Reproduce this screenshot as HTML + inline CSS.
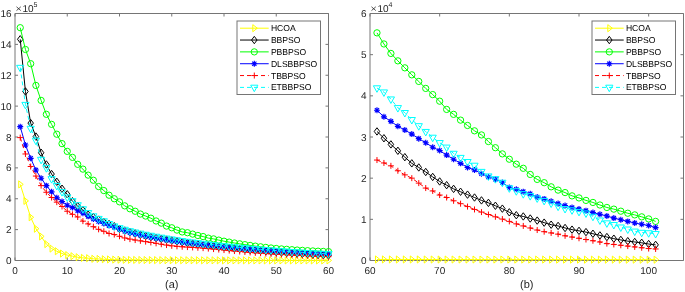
<!DOCTYPE html>
<html><head><meta charset="utf-8"><style>
html,body{margin:0;padding:0;background:#fff;}
body{width:685px;height:292px;overflow:hidden;font-family:"Liberation Sans",sans-serif;}
svg{display:block;}
#wrap{will-change:transform;}
</style></head><body>
<div id="wrap"><svg width="685" height="292" viewBox="0 0 685 292">
<rect width="685" height="292" fill="#fff"/>
<g stroke="#262626" stroke-width="1" fill="none" opacity="0.63">
<path d="M15.0,13.5H328.5V260.5H15.0Z"/>
<path d="M15.00,260.5v-3M15.00,13.5v3"/>
<path d="M67.25,260.5v-3M67.25,13.5v3"/>
<path d="M119.50,260.5v-3M119.50,13.5v3"/>
<path d="M171.75,260.5v-3M171.75,13.5v3"/>
<path d="M224.00,260.5v-3M224.00,13.5v3"/>
<path d="M276.25,260.5v-3M276.25,13.5v3"/>
<path d="M328.50,260.5v-3M328.50,13.5v3"/>
<path d="M15.0,260.50h3M328.5,260.50h-3"/>
<path d="M15.0,229.62h3M328.5,229.62h-3"/>
<path d="M15.0,198.75h3M328.5,198.75h-3"/>
<path d="M15.0,167.88h3M328.5,167.88h-3"/>
<path d="M15.0,137.00h3M328.5,137.00h-3"/>
<path d="M15.0,106.12h3M328.5,106.12h-3"/>
<path d="M15.0,75.25h3M328.5,75.25h-3"/>
<path d="M15.0,44.38h3M328.5,44.38h-3"/>
<path d="M15.0,13.50h3M328.5,13.50h-3"/>
</g>
<polyline points="20.23,184.39 25.45,200.91 30.68,217.28 35.90,228.70 41.12,236.42 46.35,244.14 51.58,248.61 56.80,251.24 62.02,253.55 67.25,255.10 72.47,256.18 77.70,257.26 82.92,257.88 88.15,258.18 93.38,258.80 98.60,258.96 103.83,259.26 109.05,259.47 114.27,259.62 119.50,259.73 124.72,259.81 129.95,259.88 135.18,259.94 140.40,259.99 145.62,260.04 150.85,260.08 156.08,260.11 161.30,260.14 166.53,260.17 171.75,260.19 176.98,260.21 182.20,260.24 187.43,260.25 192.65,260.27 197.88,260.29 203.10,260.30 208.33,260.32 213.55,260.33 218.78,260.34 224.00,260.35 229.22,260.35 234.45,260.36 239.68,260.37 244.90,260.37 250.12,260.38 255.35,260.38 260.57,260.39 265.80,260.39 271.02,260.40 276.25,260.40 281.47,260.40 286.70,260.41 291.93,260.41 297.15,260.41 302.38,260.42 307.60,260.42 312.82,260.42 318.05,260.42 323.27,260.42 328.50,260.42" fill="none" stroke="#ffff00" stroke-width="1"/>
<g fill="none" stroke="#ffff00" stroke-width="1"><path d="M18.73,180.84L23.23,184.39L18.73,187.94Z"/><path d="M23.95,197.36L28.45,200.91L23.95,204.46Z"/><path d="M29.18,213.72L33.67,217.28L29.18,220.83Z"/><path d="M34.40,225.15L38.90,228.70L34.40,232.25Z"/><path d="M39.62,232.87L44.12,236.42L39.62,239.97Z"/><path d="M44.85,240.59L49.35,244.14L44.85,247.69Z"/><path d="M50.08,245.06L54.58,248.61L50.08,252.16Z"/><path d="M55.30,247.69L59.80,251.24L55.30,254.79Z"/><path d="M60.52,250.00L65.03,253.55L60.52,257.10Z"/><path d="M65.75,251.55L70.25,255.10L65.75,258.65Z"/><path d="M70.97,252.63L75.47,256.18L70.97,259.73Z"/><path d="M76.20,253.71L80.70,257.26L76.20,260.81Z"/><path d="M81.42,254.33L85.92,257.88L81.42,261.43Z"/><path d="M86.65,254.63L91.15,258.18L86.65,261.73Z"/><path d="M91.88,255.25L96.38,258.80L91.88,262.35Z"/><path d="M97.10,255.41L101.60,258.96L97.10,262.51Z"/><path d="M102.33,255.71L106.83,259.26L102.33,262.81Z"/><path d="M107.55,255.92L112.05,259.47L107.55,263.02Z"/><path d="M112.77,256.07L117.27,259.62L112.77,263.17Z"/><path d="M118.00,256.18L122.50,259.73L118.00,263.28Z"/><path d="M123.22,256.26L127.72,259.81L123.22,263.36Z"/><path d="M128.45,256.33L132.95,259.88L128.45,263.43Z"/><path d="M133.68,256.39L138.18,259.94L133.68,263.49Z"/><path d="M138.90,256.44L143.40,259.99L138.90,263.54Z"/><path d="M144.12,256.49L148.62,260.04L144.12,263.59Z"/><path d="M149.35,256.53L153.85,260.08L149.35,263.63Z"/><path d="M154.58,256.56L159.08,260.11L154.58,263.66Z"/><path d="M159.80,256.59L164.30,260.14L159.80,263.69Z"/><path d="M165.03,256.62L169.53,260.17L165.03,263.72Z"/><path d="M170.25,256.64L174.75,260.19L170.25,263.74Z"/><path d="M175.48,256.66L179.98,260.21L175.48,263.76Z"/><path d="M180.70,256.69L185.20,260.24L180.70,263.79Z"/><path d="M185.93,256.70L190.43,260.25L185.93,263.80Z"/><path d="M191.15,256.72L195.65,260.27L191.15,263.82Z"/><path d="M196.38,256.74L200.88,260.29L196.38,263.84Z"/><path d="M201.60,256.75L206.10,260.30L201.60,263.85Z"/><path d="M206.83,256.77L211.33,260.32L206.83,263.87Z"/><path d="M212.05,256.78L216.55,260.33L212.05,263.88Z"/><path d="M217.28,256.79L221.78,260.34L217.28,263.89Z"/><path d="M222.50,256.80L227.00,260.35L222.50,263.90Z"/><path d="M227.72,256.80L232.22,260.35L227.72,263.90Z"/><path d="M232.95,256.81L237.45,260.36L232.95,263.91Z"/><path d="M238.18,256.82L242.68,260.37L238.18,263.92Z"/><path d="M243.40,256.82L247.90,260.37L243.40,263.92Z"/><path d="M248.62,256.83L253.12,260.38L248.62,263.93Z"/><path d="M253.85,256.83L258.35,260.38L253.85,263.93Z"/><path d="M259.07,256.84L263.57,260.39L259.07,263.94Z"/><path d="M264.30,256.84L268.80,260.39L264.30,263.94Z"/><path d="M269.52,256.85L274.02,260.40L269.52,263.95Z"/><path d="M274.75,256.85L279.25,260.40L274.75,263.95Z"/><path d="M279.97,256.85L284.47,260.40L279.97,263.95Z"/><path d="M285.20,256.86L289.70,260.41L285.20,263.96Z"/><path d="M290.43,256.86L294.93,260.41L290.43,263.96Z"/><path d="M295.65,256.86L300.15,260.41L295.65,263.96Z"/><path d="M300.88,256.87L305.38,260.42L300.88,263.97Z"/><path d="M306.10,256.87L310.60,260.42L306.10,263.97Z"/><path d="M311.32,256.87L315.82,260.42L311.32,263.97Z"/><path d="M316.55,256.87L321.05,260.42L316.55,263.97Z"/><path d="M321.77,256.87L326.27,260.42L321.77,263.97Z"/><path d="M327.00,256.87L331.50,260.42L327.00,263.97Z"/></g>

<polyline points="20.23,39.28 25.45,91.46 30.68,123.11 35.90,136.54 41.12,152.75 46.35,164.48 51.58,174.05 56.80,181.77 62.02,188.72 67.25,194.27 72.47,201.22 77.70,206.16 82.92,210.17 88.15,214.65 93.38,216.97 98.60,219.59 103.83,221.91 109.05,224.07 114.27,226.23 119.50,228.85 124.72,230.54 129.95,231.94 135.18,233.33 140.40,234.62 145.62,235.80 150.85,236.85 156.08,237.82 161.30,238.72 166.53,239.58 171.75,240.43 176.98,241.26 182.20,242.07 187.43,242.84 192.65,243.58 197.88,244.29 203.10,244.96 208.33,245.60 213.55,246.22 218.78,246.81 224.00,247.38 229.22,247.93 234.45,248.45 239.68,248.96 244.90,249.44 250.12,249.91 255.35,250.37 260.57,250.81 265.80,251.24 271.02,251.65 276.25,252.05 281.47,252.44 286.70,252.81 291.93,253.17 297.15,253.52 302.38,253.85 307.60,254.17 312.82,254.48 318.05,254.77 323.27,255.06 328.50,255.33" fill="none" stroke="#000000" stroke-width="1"/>
<g fill="none" stroke="#000000" stroke-width="1"><path d="M20.23,35.58L22.98,39.28L20.23,42.98L17.48,39.28Z"/><path d="M25.45,87.76L28.20,91.46L25.45,95.16L22.70,91.46Z"/><path d="M30.68,119.41L33.42,123.11L30.68,126.81L27.93,123.11Z"/><path d="M35.90,132.84L38.65,136.54L35.90,140.24L33.15,136.54Z"/><path d="M41.12,149.05L43.88,152.75L41.12,156.45L38.38,152.75Z"/><path d="M46.35,160.78L49.10,164.48L46.35,168.18L43.60,164.48Z"/><path d="M51.58,170.35L54.33,174.05L51.58,177.75L48.83,174.05Z"/><path d="M56.80,178.07L59.55,181.77L56.80,185.47L54.05,181.77Z"/><path d="M62.02,185.02L64.78,188.72L62.02,192.42L59.27,188.72Z"/><path d="M67.25,190.57L70.00,194.27L67.25,197.97L64.50,194.27Z"/><path d="M72.47,197.52L75.22,201.22L72.47,204.92L69.72,201.22Z"/><path d="M77.70,202.46L80.45,206.16L77.70,209.86L74.95,206.16Z"/><path d="M82.92,206.47L85.67,210.17L82.92,213.87L80.17,210.17Z"/><path d="M88.15,210.95L90.90,214.65L88.15,218.35L85.40,214.65Z"/><path d="M93.38,213.27L96.12,216.97L93.38,220.67L90.62,216.97Z"/><path d="M98.60,215.89L101.35,219.59L98.60,223.29L95.85,219.59Z"/><path d="M103.83,218.21L106.58,221.91L103.83,225.61L101.08,221.91Z"/><path d="M109.05,220.37L111.80,224.07L109.05,227.77L106.30,224.07Z"/><path d="M114.27,222.53L117.02,226.23L114.27,229.93L111.52,226.23Z"/><path d="M119.50,225.15L122.25,228.85L119.50,232.55L116.75,228.85Z"/><path d="M124.72,226.84L127.47,230.54L124.72,234.24L121.97,230.54Z"/><path d="M129.95,228.24L132.70,231.94L129.95,235.64L127.20,231.94Z"/><path d="M135.18,229.63L137.93,233.33L135.18,237.03L132.43,233.33Z"/><path d="M140.40,230.92L143.15,234.62L140.40,238.32L137.65,234.62Z"/><path d="M145.62,232.10L148.38,235.80L145.62,239.50L142.88,235.80Z"/><path d="M150.85,233.15L153.60,236.85L150.85,240.55L148.10,236.85Z"/><path d="M156.08,234.12L158.83,237.82L156.08,241.52L153.33,237.82Z"/><path d="M161.30,235.02L164.05,238.72L161.30,242.42L158.55,238.72Z"/><path d="M166.53,235.88L169.28,239.58L166.53,243.28L163.78,239.58Z"/><path d="M171.75,236.73L174.50,240.43L171.75,244.13L169.00,240.43Z"/><path d="M176.98,237.56L179.73,241.26L176.98,244.96L174.23,241.26Z"/><path d="M182.20,238.37L184.95,242.07L182.20,245.77L179.45,242.07Z"/><path d="M187.43,239.14L190.18,242.84L187.43,246.54L184.68,242.84Z"/><path d="M192.65,239.88L195.40,243.58L192.65,247.28L189.90,243.58Z"/><path d="M197.88,240.59L200.62,244.29L197.88,247.99L195.12,244.29Z"/><path d="M203.10,241.26L205.85,244.96L203.10,248.66L200.35,244.96Z"/><path d="M208.33,241.90L211.08,245.60L208.33,249.30L205.58,245.60Z"/><path d="M213.55,242.52L216.30,246.22L213.55,249.92L210.80,246.22Z"/><path d="M218.78,243.11L221.53,246.81L218.78,250.51L216.03,246.81Z"/><path d="M224.00,243.68L226.75,247.38L224.00,251.08L221.25,247.38Z"/><path d="M229.22,244.23L231.97,247.93L229.22,251.63L226.47,247.93Z"/><path d="M234.45,244.75L237.20,248.45L234.45,252.15L231.70,248.45Z"/><path d="M239.68,245.26L242.43,248.96L239.68,252.66L236.93,248.96Z"/><path d="M244.90,245.74L247.65,249.44L244.90,253.14L242.15,249.44Z"/><path d="M250.12,246.21L252.88,249.91L250.12,253.61L247.38,249.91Z"/><path d="M255.35,246.67L258.10,250.37L255.35,254.07L252.60,250.37Z"/><path d="M260.57,247.11L263.32,250.81L260.57,254.51L257.82,250.81Z"/><path d="M265.80,247.54L268.55,251.24L265.80,254.94L263.05,251.24Z"/><path d="M271.02,247.95L273.77,251.65L271.02,255.35L268.27,251.65Z"/><path d="M276.25,248.35L279.00,252.05L276.25,255.75L273.50,252.05Z"/><path d="M281.47,248.74L284.22,252.44L281.47,256.14L278.72,252.44Z"/><path d="M286.70,249.11L289.45,252.81L286.70,256.51L283.95,252.81Z"/><path d="M291.93,249.47L294.68,253.17L291.93,256.87L289.18,253.17Z"/><path d="M297.15,249.82L299.90,253.52L297.15,257.22L294.40,253.52Z"/><path d="M302.38,250.15L305.12,253.85L302.38,257.55L299.62,253.85Z"/><path d="M307.60,250.47L310.35,254.17L307.60,257.87L304.85,254.17Z"/><path d="M312.82,250.78L315.57,254.48L312.82,258.18L310.07,254.48Z"/><path d="M318.05,251.07L320.80,254.77L318.05,258.47L315.30,254.77Z"/><path d="M323.27,251.36L326.02,255.06L323.27,258.76L320.52,255.06Z"/><path d="M328.50,251.63L331.25,255.33L328.50,259.03L325.75,255.33Z"/></g>

<polyline points="20.23,27.70 25.45,49.47 30.68,63.67 35.90,85.44 41.12,100.41 46.35,114.31 51.58,124.34 56.80,134.22 62.02,143.64 67.25,151.36 72.47,157.38 77.70,164.32 82.92,169.11 88.15,175.13 93.38,180.23 98.60,186.55 103.83,190.57 109.05,195.20 114.27,198.75 119.50,201.84 124.72,205.85 129.95,208.78 135.18,211.25 140.40,214.03 145.62,216.04 150.85,218.20 156.08,220.98 161.30,223.14 166.53,226.07 171.75,227.77 176.98,230.09 182.20,231.94 187.43,232.71 192.65,234.10 197.88,235.49 203.10,236.57 208.33,238.12 213.55,238.89 218.78,240.12 224.00,241.20 229.22,242.13 234.45,243.00 239.68,243.84 244.90,244.65 250.12,245.42 255.35,246.14 260.57,246.80 265.80,247.42 271.02,247.98 276.25,248.48 281.47,248.92 286.70,249.32 291.93,249.70 297.15,250.05 302.38,250.37 307.60,250.67 312.82,250.94 318.05,251.19 323.27,251.42 328.50,251.62" fill="none" stroke="#00ff00" stroke-width="1"/>
<g fill="none" stroke="#00ff00" stroke-width="1"><circle cx="20.23" cy="27.70" r="3.15"/><circle cx="25.45" cy="49.47" r="3.15"/><circle cx="30.68" cy="63.67" r="3.15"/><circle cx="35.90" cy="85.44" r="3.15"/><circle cx="41.12" cy="100.41" r="3.15"/><circle cx="46.35" cy="114.31" r="3.15"/><circle cx="51.58" cy="124.34" r="3.15"/><circle cx="56.80" cy="134.22" r="3.15"/><circle cx="62.02" cy="143.64" r="3.15"/><circle cx="67.25" cy="151.36" r="3.15"/><circle cx="72.47" cy="157.38" r="3.15"/><circle cx="77.70" cy="164.32" r="3.15"/><circle cx="82.92" cy="169.11" r="3.15"/><circle cx="88.15" cy="175.13" r="3.15"/><circle cx="93.38" cy="180.23" r="3.15"/><circle cx="98.60" cy="186.55" r="3.15"/><circle cx="103.83" cy="190.57" r="3.15"/><circle cx="109.05" cy="195.20" r="3.15"/><circle cx="114.27" cy="198.75" r="3.15"/><circle cx="119.50" cy="201.84" r="3.15"/><circle cx="124.72" cy="205.85" r="3.15"/><circle cx="129.95" cy="208.78" r="3.15"/><circle cx="135.18" cy="211.25" r="3.15"/><circle cx="140.40" cy="214.03" r="3.15"/><circle cx="145.62" cy="216.04" r="3.15"/><circle cx="150.85" cy="218.20" r="3.15"/><circle cx="156.08" cy="220.98" r="3.15"/><circle cx="161.30" cy="223.14" r="3.15"/><circle cx="166.53" cy="226.07" r="3.15"/><circle cx="171.75" cy="227.77" r="3.15"/><circle cx="176.98" cy="230.09" r="3.15"/><circle cx="182.20" cy="231.94" r="3.15"/><circle cx="187.43" cy="232.71" r="3.15"/><circle cx="192.65" cy="234.10" r="3.15"/><circle cx="197.88" cy="235.49" r="3.15"/><circle cx="203.10" cy="236.57" r="3.15"/><circle cx="208.33" cy="238.12" r="3.15"/><circle cx="213.55" cy="238.89" r="3.15"/><circle cx="218.78" cy="240.12" r="3.15"/><circle cx="224.00" cy="241.20" r="3.15"/><circle cx="229.22" cy="242.13" r="3.15"/><circle cx="234.45" cy="243.00" r="3.15"/><circle cx="239.68" cy="243.84" r="3.15"/><circle cx="244.90" cy="244.65" r="3.15"/><circle cx="250.12" cy="245.42" r="3.15"/><circle cx="255.35" cy="246.14" r="3.15"/><circle cx="260.57" cy="246.80" r="3.15"/><circle cx="265.80" cy="247.42" r="3.15"/><circle cx="271.02" cy="247.98" r="3.15"/><circle cx="276.25" cy="248.48" r="3.15"/><circle cx="281.47" cy="248.92" r="3.15"/><circle cx="286.70" cy="249.32" r="3.15"/><circle cx="291.93" cy="249.70" r="3.15"/><circle cx="297.15" cy="250.05" r="3.15"/><circle cx="302.38" cy="250.37" r="3.15"/><circle cx="307.60" cy="250.67" r="3.15"/><circle cx="312.82" cy="250.94" r="3.15"/><circle cx="318.05" cy="251.19" r="3.15"/><circle cx="323.27" cy="251.42" r="3.15"/><circle cx="328.50" cy="251.62" r="3.15"/></g>

<polyline points="20.23,126.66 25.45,145.03 30.68,158.30 35.90,170.04 41.12,178.22 46.35,185.63 51.58,191.80 56.80,197.82 62.02,201.53 67.25,205.23 72.47,207.55 77.70,210.79 82.92,213.26 88.15,216.35 93.38,218.97 98.60,221.44 103.83,223.45 109.05,225.61 114.27,227.31 119.50,229.32 124.72,231.17 129.95,232.73 135.18,234.10 140.40,235.34 145.62,236.47 150.85,237.50 156.08,238.43 161.30,239.30 166.53,240.12 171.75,240.93 176.98,241.70 182.20,242.44 187.43,243.14 192.65,243.81 197.88,244.44 203.10,245.05 208.33,245.62 213.55,246.17 218.78,246.70 224.00,247.22 229.22,247.73 234.45,248.23 239.68,248.70 244.90,249.16 250.12,249.61 255.35,250.04 260.57,250.46 265.80,250.86 271.02,251.25 276.25,251.62 281.47,251.99 286.70,252.33 291.93,252.67 297.15,253.00 302.38,253.31 307.60,253.61 312.82,253.90 318.05,254.18 323.27,254.45 328.50,254.71" fill="none" stroke="#0000ff" stroke-width="1"/>
<g fill="none" stroke="#0000ff" stroke-width="1"><path d="M17.23,126.66H23.23M20.23,123.66V129.66M18.10,124.54L22.35,128.78M18.10,128.78L22.35,124.54" stroke-width="1.15"/><path d="M22.45,145.03H28.45M25.45,142.03V148.03M23.33,142.91L27.57,147.15M23.33,147.15L27.57,142.91" stroke-width="1.15"/><path d="M27.68,158.30H33.67M30.68,155.30V161.30M28.55,156.18L32.80,160.42M28.55,160.42L32.80,156.18" stroke-width="1.15"/><path d="M32.90,170.04H38.90M35.90,167.04V173.04M33.78,167.92L38.02,172.16M33.78,172.16L38.02,167.92" stroke-width="1.15"/><path d="M38.12,178.22H44.12M41.12,175.22V181.22M39.00,176.10L43.25,180.34M39.00,180.34L43.25,176.10" stroke-width="1.15"/><path d="M43.35,185.63H49.35M46.35,182.63V188.63M44.23,183.51L48.47,187.75M44.23,187.75L48.47,183.51" stroke-width="1.15"/><path d="M48.58,191.80H54.58M51.58,188.80V194.80M49.45,189.68L53.70,193.92M49.45,193.92L53.70,189.68" stroke-width="1.15"/><path d="M53.80,197.82H59.80M56.80,194.82V200.82M54.68,195.70L58.92,199.94M54.68,199.94L58.92,195.70" stroke-width="1.15"/><path d="M59.02,201.53H65.03M62.02,198.53V204.53M59.90,199.41L64.15,203.65M59.90,203.65L64.15,199.41" stroke-width="1.15"/><path d="M64.25,205.23H70.25M67.25,202.23V208.23M65.13,203.11L69.37,207.35M65.13,207.35L69.37,203.11" stroke-width="1.15"/><path d="M69.47,207.55H75.47M72.47,204.55V210.55M70.35,205.43L74.60,209.67M70.35,209.67L74.60,205.43" stroke-width="1.15"/><path d="M74.70,210.79H80.70M77.70,207.79V213.79M75.58,208.67L79.82,212.91M75.58,212.91L79.82,208.67" stroke-width="1.15"/><path d="M79.92,213.26H85.92M82.92,210.26V216.26M80.80,211.14L85.05,215.38M80.80,215.38L85.05,211.14" stroke-width="1.15"/><path d="M85.15,216.35H91.15M88.15,213.35V219.35M86.03,214.23L90.27,218.47M86.03,218.47L90.27,214.23" stroke-width="1.15"/><path d="M90.38,218.97H96.38M93.38,215.97V221.97M91.25,216.85L95.50,221.09M91.25,221.09L95.50,216.85" stroke-width="1.15"/><path d="M95.60,221.44H101.60M98.60,218.44V224.44M96.48,219.32L100.72,223.56M96.48,223.56L100.72,219.32" stroke-width="1.15"/><path d="M100.83,223.45H106.83M103.83,220.45V226.45M101.70,221.33L105.95,225.57M101.70,225.57L105.95,221.33" stroke-width="1.15"/><path d="M106.05,225.61H112.05M109.05,222.61V228.61M106.93,223.49L111.17,227.73M106.93,227.73L111.17,223.49" stroke-width="1.15"/><path d="M111.27,227.31H117.27M114.27,224.31V230.31M112.15,225.19L116.40,229.43M112.15,229.43L116.40,225.19" stroke-width="1.15"/><path d="M116.50,229.32H122.50M119.50,226.32V232.32M117.38,227.20L121.62,231.44M117.38,231.44L121.62,227.20" stroke-width="1.15"/><path d="M121.72,231.17H127.72M124.72,228.17V234.17M122.60,229.05L126.85,233.29M122.60,233.29L126.85,229.05" stroke-width="1.15"/><path d="M126.95,232.73H132.95M129.95,229.73V235.73M127.83,230.61L132.07,234.85M127.83,234.85L132.07,230.61" stroke-width="1.15"/><path d="M132.18,234.10H138.18M135.18,231.10V237.10M133.05,231.98L137.30,236.22M133.05,236.22L137.30,231.98" stroke-width="1.15"/><path d="M137.40,235.34H143.40M140.40,232.34V238.34M138.28,233.22L142.52,237.46M138.28,237.46L142.52,233.22" stroke-width="1.15"/><path d="M142.62,236.47H148.62M145.62,233.47V239.47M143.50,234.35L147.75,238.59M143.50,238.59L147.75,234.35" stroke-width="1.15"/><path d="M147.85,237.50H153.85M150.85,234.50V240.50M148.73,235.38L152.97,239.62M148.73,239.62L152.97,235.38" stroke-width="1.15"/><path d="M153.08,238.43H159.08M156.08,235.43V241.43M153.95,236.31L158.20,240.56M153.95,240.56L158.20,236.31" stroke-width="1.15"/><path d="M158.30,239.30H164.30M161.30,236.30V242.30M159.18,237.17L163.42,241.42M159.18,241.42L163.42,237.17" stroke-width="1.15"/><path d="M163.53,240.12H169.53M166.53,237.12V243.12M164.40,238.00L168.65,242.24M164.40,242.24L168.65,238.00" stroke-width="1.15"/><path d="M168.75,240.93H174.75M171.75,237.93V243.93M169.63,238.81L173.87,243.05M169.63,243.05L173.87,238.81" stroke-width="1.15"/><path d="M173.98,241.70H179.98M176.98,238.70V244.70M174.85,239.58L179.10,243.82M174.85,243.82L179.10,239.58" stroke-width="1.15"/><path d="M179.20,242.44H185.20M182.20,239.44V245.44M180.08,240.32L184.32,244.56M180.08,244.56L184.32,240.32" stroke-width="1.15"/><path d="M184.43,243.14H190.43M187.43,240.14V246.14M185.30,241.02L189.55,245.26M185.30,245.26L189.55,241.02" stroke-width="1.15"/><path d="M189.65,243.81H195.65M192.65,240.81V246.81M190.53,241.69L194.77,245.93M190.53,245.93L194.77,241.69" stroke-width="1.15"/><path d="M194.88,244.44H200.88M197.88,241.44V247.44M195.75,242.32L200.00,246.57M195.75,246.57L200.00,242.32" stroke-width="1.15"/><path d="M200.10,245.05H206.10M203.10,242.05V248.05M200.98,242.93L205.22,247.17M200.98,247.17L205.22,242.93" stroke-width="1.15"/><path d="M205.33,245.62H211.33M208.33,242.62V248.62M206.20,243.50L210.45,247.74M206.20,247.74L210.45,243.50" stroke-width="1.15"/><path d="M210.55,246.17H216.55M213.55,243.17V249.17M211.43,244.05L215.67,248.29M211.43,248.29L215.67,244.05" stroke-width="1.15"/><path d="M215.78,246.70H221.78M218.78,243.70V249.70M216.65,244.58L220.90,248.82M216.65,248.82L220.90,244.58" stroke-width="1.15"/><path d="M221.00,247.22H227.00M224.00,244.22V250.22M221.88,245.10L226.12,249.34M221.88,249.34L226.12,245.10" stroke-width="1.15"/><path d="M226.22,247.73H232.22M229.22,244.73V250.73M227.10,245.61L231.35,249.85M227.10,249.85L231.35,245.61" stroke-width="1.15"/><path d="M231.45,248.23H237.45M234.45,245.23V251.23M232.33,246.10L236.57,250.35M232.33,250.35L236.57,246.10" stroke-width="1.15"/><path d="M236.68,248.70H242.68M239.68,245.70V251.70M237.55,246.58L241.80,250.82M237.55,250.82L241.80,246.58" stroke-width="1.15"/><path d="M241.90,249.16H247.90M244.90,246.16V252.16M242.78,247.04L247.02,251.29M242.78,251.29L247.02,247.04" stroke-width="1.15"/><path d="M247.12,249.61H253.12M250.12,246.61V252.61M248.00,247.49L252.25,251.73M248.00,251.73L252.25,247.49" stroke-width="1.15"/><path d="M252.35,250.04H258.35M255.35,247.04V253.04M253.23,247.92L257.47,252.16M253.23,252.16L257.47,247.92" stroke-width="1.15"/><path d="M257.57,250.46H263.57M260.57,247.46V253.46M258.45,248.34L262.70,252.58M258.45,252.58L262.70,248.34" stroke-width="1.15"/><path d="M262.80,250.86H268.80M265.80,247.86V253.86M263.68,248.74L267.92,252.98M263.68,252.98L267.92,248.74" stroke-width="1.15"/><path d="M268.02,251.25H274.02M271.02,248.25V254.25M268.90,249.13L273.15,253.37M268.90,253.37L273.15,249.13" stroke-width="1.15"/><path d="M273.25,251.62H279.25M276.25,248.62V254.62M274.13,249.50L278.37,253.74M274.13,253.74L278.37,249.50" stroke-width="1.15"/><path d="M278.47,251.99H284.47M281.47,248.99V254.99M279.35,249.86L283.60,254.11M279.35,254.11L283.60,249.86" stroke-width="1.15"/><path d="M283.70,252.33H289.70M286.70,249.33V255.33M284.58,250.21L288.82,254.46M284.58,254.46L288.82,250.21" stroke-width="1.15"/><path d="M288.93,252.67H294.93M291.93,249.67V255.67M289.80,250.55L294.05,254.79M289.80,254.79L294.05,250.55" stroke-width="1.15"/><path d="M294.15,253.00H300.15M297.15,250.00V256.00M295.03,250.87L299.27,255.12M295.03,255.12L299.27,250.87" stroke-width="1.15"/><path d="M299.38,253.31H305.38M302.38,250.31V256.31M300.25,251.19L304.50,255.43M300.25,255.43L304.50,251.19" stroke-width="1.15"/><path d="M304.60,253.61H310.60M307.60,250.61V256.61M305.48,251.49L309.72,255.73M305.48,255.73L309.72,251.49" stroke-width="1.15"/><path d="M309.82,253.90H315.82M312.82,250.90V256.90M310.70,251.78L314.95,256.02M310.70,256.02L314.95,251.78" stroke-width="1.15"/><path d="M315.05,254.18H321.05M318.05,251.18V257.18M315.93,252.06L320.17,256.30M315.93,256.30L320.17,252.06" stroke-width="1.15"/><path d="M320.27,254.45H326.27M323.27,251.45V257.45M321.15,252.33L325.40,256.57M321.15,256.57L325.40,252.33" stroke-width="1.15"/><path d="M325.50,254.71H331.50M328.50,251.71V257.71M326.38,252.59L330.62,256.83M326.38,256.83L330.62,252.59" stroke-width="1.15"/></g>

<polyline points="20.23,137.62 25.45,153.98 30.68,166.49 35.90,176.06 41.12,185.63 46.35,192.27 51.58,197.51 56.80,202.15 62.02,206.47 67.25,211.25 72.47,214.34 77.70,216.97 82.92,221.13 88.15,223.91 93.38,226.69 98.60,229.32 103.83,231.32 109.05,233.48 114.27,234.56 119.50,236.26 124.72,237.96 129.95,239.11 135.18,240.04 140.40,240.84 145.62,241.61 150.85,242.44 156.08,243.33 161.30,244.22 166.53,245.06 171.75,245.83 176.98,246.34 182.20,246.74 187.43,247.09 192.65,247.41 197.88,247.76 203.10,248.15 208.33,248.60 213.55,249.07 218.78,249.56 224.00,250.06 229.22,250.56 234.45,251.05 239.68,251.52 244.90,251.98 250.12,252.41 255.35,252.82 260.57,253.20 265.80,253.55 271.02,253.88 276.25,254.20 281.47,254.50 286.70,254.78 291.93,255.05 297.15,255.31 302.38,255.56 307.60,255.80 312.82,256.02 318.05,256.24 323.27,256.44 328.50,256.64" fill="none" stroke="#ff0000" stroke-width="1" stroke-dasharray="4 3"/>
<g fill="none" stroke="#ff0000" stroke-width="1"><path d="M17.23,137.62H23.23M20.23,134.62V140.62"/><path d="M22.45,153.98H28.45M25.45,150.98V156.98"/><path d="M27.68,166.49H33.67M30.68,163.49V169.49"/><path d="M32.90,176.06H38.90M35.90,173.06V179.06"/><path d="M38.12,185.63H44.12M41.12,182.63V188.63"/><path d="M43.35,192.27H49.35M46.35,189.27V195.27"/><path d="M48.58,197.51H54.58M51.58,194.51V200.51"/><path d="M53.80,202.15H59.80M56.80,199.15V205.15"/><path d="M59.02,206.47H65.03M62.02,203.47V209.47"/><path d="M64.25,211.25H70.25M67.25,208.25V214.25"/><path d="M69.47,214.34H75.47M72.47,211.34V217.34"/><path d="M74.70,216.97H80.70M77.70,213.97V219.97"/><path d="M79.92,221.13H85.92M82.92,218.13V224.13"/><path d="M85.15,223.91H91.15M88.15,220.91V226.91"/><path d="M90.38,226.69H96.38M93.38,223.69V229.69"/><path d="M95.60,229.32H101.60M98.60,226.32V232.32"/><path d="M100.83,231.32H106.83M103.83,228.32V234.32"/><path d="M106.05,233.48H112.05M109.05,230.48V236.48"/><path d="M111.27,234.56H117.27M114.27,231.56V237.56"/><path d="M116.50,236.26H122.50M119.50,233.26V239.26"/><path d="M121.72,237.96H127.72M124.72,234.96V240.96"/><path d="M126.95,239.11H132.95M129.95,236.11V242.11"/><path d="M132.18,240.04H138.18M135.18,237.04V243.04"/><path d="M137.40,240.84H143.40M140.40,237.84V243.84"/><path d="M142.62,241.61H148.62M145.62,238.61V244.61"/><path d="M147.85,242.44H153.85M150.85,239.44V245.44"/><path d="M153.08,243.33H159.08M156.08,240.33V246.33"/><path d="M158.30,244.22H164.30M161.30,241.22V247.22"/><path d="M163.53,245.06H169.53M166.53,242.06V248.06"/><path d="M168.75,245.83H174.75M171.75,242.83V248.83"/><path d="M173.98,246.34H179.98M176.98,243.34V249.34"/><path d="M179.20,246.74H185.20M182.20,243.74V249.74"/><path d="M184.43,247.09H190.43M187.43,244.09V250.09"/><path d="M189.65,247.41H195.65M192.65,244.41V250.41"/><path d="M194.88,247.76H200.88M197.88,244.76V250.76"/><path d="M200.10,248.15H206.10M203.10,245.15V251.15"/><path d="M205.33,248.60H211.33M208.33,245.60V251.60"/><path d="M210.55,249.07H216.55M213.55,246.07V252.07"/><path d="M215.78,249.56H221.78M218.78,246.56V252.56"/><path d="M221.00,250.06H227.00M224.00,247.06V253.06"/><path d="M226.22,250.56H232.22M229.22,247.56V253.56"/><path d="M231.45,251.05H237.45M234.45,248.05V254.05"/><path d="M236.68,251.52H242.68M239.68,248.52V254.52"/><path d="M241.90,251.98H247.90M244.90,248.98V254.98"/><path d="M247.12,252.41H253.12M250.12,249.41V255.41"/><path d="M252.35,252.82H258.35M255.35,249.82V255.82"/><path d="M257.57,253.20H263.57M260.57,250.20V256.20"/><path d="M262.80,253.55H268.80M265.80,250.55V256.55"/><path d="M268.02,253.88H274.02M271.02,250.88V256.88"/><path d="M273.25,254.20H279.25M276.25,251.20V257.20"/><path d="M278.47,254.50H284.47M281.47,251.50V257.50"/><path d="M283.70,254.78H289.70M286.70,251.78V257.78"/><path d="M288.93,255.05H294.93M291.93,252.05V258.05"/><path d="M294.15,255.31H300.15M297.15,252.31V258.31"/><path d="M299.38,255.56H305.38M302.38,252.56V258.56"/><path d="M304.60,255.80H310.60M307.60,252.80V258.80"/><path d="M309.82,256.02H315.82M312.82,253.02V259.02"/><path d="M315.05,256.24H321.05M318.05,253.24V259.24"/><path d="M320.27,256.44H326.27M323.27,253.44V259.44"/><path d="M325.50,256.64H331.50M328.50,253.64V259.64"/></g>

<polyline points="20.23,67.53 25.45,104.58 30.68,128.51 35.90,140.40 41.12,159.54 46.35,167.88 51.58,178.84 56.80,185.63 62.02,191.80 67.25,197.21 72.47,200.91 77.70,204.93 82.92,208.95 88.15,212.77 93.38,216.04 98.60,218.60 103.83,220.98 109.05,223.68 114.27,226.07 119.50,227.89 124.72,229.49 129.95,230.92 135.18,232.20 140.40,233.37 145.62,234.45 150.85,235.46 156.08,236.43 161.30,237.36 166.53,238.27 171.75,239.15 176.98,239.97 182.20,240.74 187.43,241.48 192.65,242.18 197.88,242.86 203.10,243.52 208.33,244.15 213.55,244.75 218.78,245.33 224.00,245.89 229.22,246.42 234.45,246.93 239.68,247.43 244.90,247.91 250.12,248.38 255.35,248.83 260.57,249.27 265.80,249.69 271.02,250.11 276.25,250.51 281.47,250.90 286.70,251.28 291.93,251.64 297.15,251.99 302.38,252.33 307.60,252.66 312.82,252.98 318.05,253.28 323.27,253.58 328.50,253.86" fill="none" stroke="#00ffff" stroke-width="1" stroke-dasharray="4 3"/>
<g fill="none" stroke="#00ffff" stroke-width="1"><path d="M16.62,65.33L23.83,65.33L20.23,71.83Z"/><path d="M21.85,102.38L29.05,102.38L25.45,108.88Z"/><path d="M27.07,126.31L34.27,126.31L30.68,132.81Z"/><path d="M32.30,138.20L39.50,138.20L35.90,144.70Z"/><path d="M37.52,157.34L44.73,157.34L41.12,163.84Z"/><path d="M42.75,165.68L49.95,165.68L46.35,172.18Z"/><path d="M47.98,176.64L55.18,176.64L51.58,183.14Z"/><path d="M53.20,183.43L60.40,183.43L56.80,189.93Z"/><path d="M58.42,189.60L65.62,189.60L62.02,196.10Z"/><path d="M63.65,195.01L70.85,195.01L67.25,201.51Z"/><path d="M68.88,198.71L76.07,198.71L72.47,205.21Z"/><path d="M74.10,202.73L81.30,202.73L77.70,209.23Z"/><path d="M79.33,206.75L86.52,206.75L82.92,213.25Z"/><path d="M84.55,210.57L91.75,210.57L88.15,217.07Z"/><path d="M89.78,213.84L96.97,213.84L93.38,220.34Z"/><path d="M95.00,216.40L102.20,216.40L98.60,222.90Z"/><path d="M100.23,218.78L107.42,218.78L103.83,225.28Z"/><path d="M105.45,221.48L112.65,221.48L109.05,227.98Z"/><path d="M110.67,223.87L117.87,223.87L114.27,230.37Z"/><path d="M115.90,225.69L123.10,225.69L119.50,232.19Z"/><path d="M121.12,227.29L128.32,227.29L124.72,233.79Z"/><path d="M126.35,228.72L133.55,228.72L129.95,235.22Z"/><path d="M131.58,230.00L138.78,230.00L135.18,236.50Z"/><path d="M136.80,231.17L144.00,231.17L140.40,237.67Z"/><path d="M142.03,232.25L149.22,232.25L145.62,238.75Z"/><path d="M147.25,233.26L154.45,233.26L150.85,239.76Z"/><path d="M152.48,234.23L159.68,234.23L156.08,240.73Z"/><path d="M157.70,235.16L164.90,235.16L161.30,241.66Z"/><path d="M162.93,236.07L170.12,236.07L166.53,242.57Z"/><path d="M168.15,236.95L175.35,236.95L171.75,243.45Z"/><path d="M173.38,237.77L180.58,237.77L176.98,244.27Z"/><path d="M178.60,238.54L185.80,238.54L182.20,245.04Z"/><path d="M183.83,239.28L191.03,239.28L187.43,245.78Z"/><path d="M189.05,239.98L196.25,239.98L192.65,246.48Z"/><path d="M194.28,240.66L201.47,240.66L197.88,247.16Z"/><path d="M199.50,241.32L206.70,241.32L203.10,247.82Z"/><path d="M204.73,241.95L211.93,241.95L208.33,248.45Z"/><path d="M209.95,242.55L217.15,242.55L213.55,249.05Z"/><path d="M215.18,243.13L222.38,243.13L218.78,249.63Z"/><path d="M220.40,243.69L227.60,243.69L224.00,250.19Z"/><path d="M225.62,244.22L232.82,244.22L229.22,250.72Z"/><path d="M230.85,244.73L238.05,244.73L234.45,251.23Z"/><path d="M236.08,245.23L243.28,245.23L239.68,251.73Z"/><path d="M241.30,245.71L248.50,245.71L244.90,252.21Z"/><path d="M246.53,246.18L253.72,246.18L250.12,252.68Z"/><path d="M251.75,246.63L258.95,246.63L255.35,253.13Z"/><path d="M256.97,247.07L264.18,247.07L260.57,253.57Z"/><path d="M262.20,247.49L269.40,247.49L265.80,253.99Z"/><path d="M267.42,247.91L274.62,247.91L271.02,254.41Z"/><path d="M272.65,248.31L279.85,248.31L276.25,254.81Z"/><path d="M277.87,248.70L285.07,248.70L281.47,255.20Z"/><path d="M283.10,249.08L290.30,249.08L286.70,255.58Z"/><path d="M288.32,249.44L295.53,249.44L291.93,255.94Z"/><path d="M293.55,249.79L300.75,249.79L297.15,256.29Z"/><path d="M298.77,250.13L305.98,250.13L302.38,256.63Z"/><path d="M304.00,250.46L311.20,250.46L307.60,256.96Z"/><path d="M309.22,250.78L316.43,250.78L312.82,257.28Z"/><path d="M314.45,251.08L321.65,251.08L318.05,257.58Z"/><path d="M319.67,251.38L326.88,251.38L323.27,257.88Z"/><path d="M324.90,251.66L332.10,251.66L328.50,258.16Z"/></g>

<g font-family="Liberation Sans, sans-serif" text-rendering="geometricPrecision" font-size="10" fill="#262626">
<text x="15.00" y="274" text-anchor="middle">0</text>
<text x="67.25" y="274" text-anchor="middle">10</text>
<text x="119.50" y="274" text-anchor="middle">20</text>
<text x="171.75" y="274" text-anchor="middle">30</text>
<text x="224.00" y="274" text-anchor="middle">40</text>
<text x="276.25" y="274" text-anchor="middle">50</text>
<text x="328.50" y="274" text-anchor="middle">60</text>
<text x="11.50" y="264.10" text-anchor="end">0</text>
<text x="11.50" y="233.22" text-anchor="end">2</text>
<text x="11.50" y="202.35" text-anchor="end">4</text>
<text x="11.50" y="171.47" text-anchor="end">6</text>
<text x="11.50" y="140.60" text-anchor="end">8</text>
<text x="11.50" y="109.72" text-anchor="end">10</text>
<text x="11.50" y="78.85" text-anchor="end">12</text>
<text x="11.50" y="47.98" text-anchor="end">14</text>
<text x="11.50" y="17.10" text-anchor="end">16</text>
<text x="22.40" y="11.8">10</text>
<text x="33.60" y="6.6" font-size="7">5</text>
</g>
<path d="M16.50,6.8L20.80,10.6M16.50,10.6L20.80,6.8" stroke="#262626" stroke-width="0.8" fill="none"/>
<text font-family="Liberation Sans, sans-serif" text-rendering="geometricPrecision" font-size="11" fill="#262626" x="171.75" y="288" text-anchor="middle">(a)</text>
<rect x="237.0" y="21" width="83.5" height="73.5" fill="#fff" stroke="#262626" stroke-width="1" opacity="0.63"/>
<path d="M240.00,28.20H268.70" stroke="#ffff00" stroke-width="1"/>
<g fill="none" stroke="#ffff00" stroke-width="1"><path d="M252.80,24.65L257.30,28.20L252.80,31.75Z"/></g>
<text font-family="Liberation Sans, sans-serif" text-rendering="geometricPrecision" font-size="8.6" fill="#000" x="270.90" y="31.15">HCOA</text>
<path d="M240.00,40.04H268.70" stroke="#000000" stroke-width="1"/>
<g fill="none" stroke="#000000" stroke-width="1"><path d="M254.30,36.34L257.05,40.04L254.30,43.74L251.55,40.04Z"/></g>
<text font-family="Liberation Sans, sans-serif" text-rendering="geometricPrecision" font-size="8.6" fill="#000" x="270.90" y="42.99">BBPSO</text>
<path d="M240.00,51.88H268.70" stroke="#00ff00" stroke-width="1"/>
<g fill="none" stroke="#00ff00" stroke-width="1"><circle cx="254.30" cy="51.88" r="3.15"/></g>
<text font-family="Liberation Sans, sans-serif" text-rendering="geometricPrecision" font-size="8.6" fill="#000" x="270.90" y="54.83">PBBPSO</text>
<path d="M240.00,63.72H268.70" stroke="#0000ff" stroke-width="1"/>
<g fill="none" stroke="#0000ff" stroke-width="1"><path d="M251.30,63.72H257.30M254.30,60.72V66.72M252.18,61.60L256.42,65.84M252.18,65.84L256.42,61.60" stroke-width="1.15"/></g>
<text font-family="Liberation Sans, sans-serif" text-rendering="geometricPrecision" font-size="8.6" fill="#000" x="270.90" y="66.67">DLSBBPSO</text>
<path d="M240.00,75.56H268.70" stroke="#ff0000" stroke-width="1" stroke-dasharray="4 3"/>
<g fill="none" stroke="#ff0000" stroke-width="1"><path d="M251.30,75.56H257.30M254.30,72.56V78.56"/></g>
<text font-family="Liberation Sans, sans-serif" text-rendering="geometricPrecision" font-size="8.6" fill="#000" x="270.90" y="78.51">TBBPSO</text>
<path d="M240.00,87.40H268.70" stroke="#00ffff" stroke-width="1" stroke-dasharray="4 3"/>
<g fill="none" stroke="#00ffff" stroke-width="1"><path d="M250.70,85.20L257.90,85.20L254.30,91.70Z"/></g>
<text font-family="Liberation Sans, sans-serif" text-rendering="geometricPrecision" font-size="8.6" fill="#000" x="270.90" y="90.35">ETBBPSO</text>
<g stroke="#262626" stroke-width="1" fill="none" opacity="0.63">
<path d="M370.0,13.5H683.5V260.5H370.0Z"/>
<path d="M370.00,260.5v-3M370.00,13.5v3"/>
<path d="M439.67,260.5v-3M439.67,13.5v3"/>
<path d="M509.33,260.5v-3M509.33,13.5v3"/>
<path d="M579.00,260.5v-3M579.00,13.5v3"/>
<path d="M648.67,260.5v-3M648.67,13.5v3"/>
<path d="M370.0,260.50h3M683.5,260.50h-3"/>
<path d="M370.0,219.33h3M683.5,219.33h-3"/>
<path d="M370.0,178.17h3M683.5,178.17h-3"/>
<path d="M370.0,137.00h3M683.5,137.00h-3"/>
<path d="M370.0,95.83h3M683.5,95.83h-3"/>
<path d="M370.0,54.67h3M683.5,54.67h-3"/>
<path d="M370.0,13.50h3M683.5,13.50h-3"/>
</g>
<polyline points="376.97,259.47 383.93,259.48 390.90,259.48 397.87,259.49 404.83,259.49 411.80,259.50 418.77,259.50 425.73,259.51 432.70,259.52 439.67,259.52 446.63,259.53 453.60,259.53 460.57,259.54 467.53,259.54 474.50,259.55 481.47,259.55 488.43,259.56 495.40,259.56 502.37,259.57 509.33,259.57 516.30,259.58 523.27,259.58 530.23,259.59 537.20,259.59 544.17,259.60 551.13,259.60 558.10,259.61 565.07,259.61 572.03,259.62 579.00,259.62 585.97,259.63 592.93,259.63 599.90,259.64 606.87,259.64 613.83,259.65 620.80,259.65 627.77,259.66 634.73,259.66 641.70,259.67 648.67,259.67 655.63,259.68" fill="none" stroke="#ffff00" stroke-width="1"/>
<g fill="none" stroke="#ffff00" stroke-width="1"><path d="M375.47,255.92L379.97,259.47L375.47,263.02Z"/><path d="M382.43,255.93L386.93,259.48L382.43,263.03Z"/><path d="M389.40,255.93L393.90,259.48L389.40,263.03Z"/><path d="M396.37,255.94L400.87,259.49L396.37,263.04Z"/><path d="M403.33,255.94L407.83,259.49L403.33,263.04Z"/><path d="M410.30,255.95L414.80,259.50L410.30,263.05Z"/><path d="M417.27,255.95L421.77,259.50L417.27,263.05Z"/><path d="M424.23,255.96L428.73,259.51L424.23,263.06Z"/><path d="M431.20,255.97L435.70,259.52L431.20,263.07Z"/><path d="M438.17,255.97L442.67,259.52L438.17,263.07Z"/><path d="M445.13,255.98L449.63,259.53L445.13,263.08Z"/><path d="M452.10,255.98L456.60,259.53L452.10,263.08Z"/><path d="M459.07,255.99L463.57,259.54L459.07,263.09Z"/><path d="M466.03,255.99L470.53,259.54L466.03,263.09Z"/><path d="M473.00,256.00L477.50,259.55L473.00,263.10Z"/><path d="M479.97,256.00L484.47,259.55L479.97,263.10Z"/><path d="M486.93,256.01L491.43,259.56L486.93,263.11Z"/><path d="M493.90,256.01L498.40,259.56L493.90,263.11Z"/><path d="M500.87,256.02L505.37,259.57L500.87,263.12Z"/><path d="M507.83,256.02L512.33,259.57L507.83,263.12Z"/><path d="M514.80,256.03L519.30,259.58L514.80,263.13Z"/><path d="M521.77,256.03L526.27,259.58L521.77,263.13Z"/><path d="M528.73,256.04L533.23,259.59L528.73,263.14Z"/><path d="M535.70,256.04L540.20,259.59L535.70,263.14Z"/><path d="M542.67,256.05L547.17,259.60L542.67,263.15Z"/><path d="M549.63,256.05L554.13,259.60L549.63,263.15Z"/><path d="M556.60,256.06L561.10,259.61L556.60,263.16Z"/><path d="M563.57,256.06L568.07,259.61L563.57,263.16Z"/><path d="M570.53,256.07L575.03,259.62L570.53,263.17Z"/><path d="M577.50,256.07L582.00,259.62L577.50,263.17Z"/><path d="M584.47,256.08L588.97,259.63L584.47,263.18Z"/><path d="M591.43,256.08L595.93,259.63L591.43,263.18Z"/><path d="M598.40,256.09L602.90,259.64L598.40,263.19Z"/><path d="M605.37,256.09L609.87,259.64L605.37,263.19Z"/><path d="M612.33,256.10L616.83,259.65L612.33,263.20Z"/><path d="M619.30,256.10L623.80,259.65L619.30,263.20Z"/><path d="M626.27,256.11L630.77,259.66L626.27,263.21Z"/><path d="M633.23,256.11L637.73,259.66L633.23,263.21Z"/><path d="M640.20,256.12L644.70,259.67L640.20,263.22Z"/><path d="M647.17,256.12L651.67,259.67L647.17,263.22Z"/><path d="M654.13,256.13L658.63,259.68L654.13,263.23Z"/></g>

<polyline points="376.97,131.44 383.93,138.24 390.90,144.41 397.87,150.79 404.83,157.17 411.80,163.35 418.77,167.46 425.73,171.99 432.70,176.93 439.67,181.46 446.63,185.17 453.60,188.87 460.57,191.75 467.53,194.63 474.50,197.51 481.47,200.40 488.43,202.87 495.40,205.75 502.37,208.63 509.33,212.34 516.30,215.22 523.27,216.45 530.23,218.51 537.20,220.57 544.17,222.63 551.13,224.69 558.10,225.92 565.07,227.98 572.03,229.62 579.00,230.86 585.97,232.09 592.93,233.74 599.90,235.39 606.87,237.03 613.83,238.68 620.80,239.92 627.77,241.15 634.73,241.97 641.70,242.80 648.67,244.03 655.63,244.86" fill="none" stroke="#000000" stroke-width="1"/>
<g fill="none" stroke="#000000" stroke-width="1"><path d="M376.97,127.74L379.72,131.44L376.97,135.14L374.22,131.44Z"/><path d="M383.93,134.54L386.68,138.24L383.93,141.94L381.18,138.24Z"/><path d="M390.90,140.71L393.65,144.41L390.90,148.11L388.15,144.41Z"/><path d="M397.87,147.09L400.62,150.79L397.87,154.49L395.12,150.79Z"/><path d="M404.83,153.47L407.58,157.17L404.83,160.87L402.08,157.17Z"/><path d="M411.80,159.65L414.55,163.35L411.80,167.05L409.05,163.35Z"/><path d="M418.77,163.76L421.52,167.46L418.77,171.16L416.02,167.46Z"/><path d="M425.73,168.29L428.48,171.99L425.73,175.69L422.98,171.99Z"/><path d="M432.70,173.23L435.45,176.93L432.70,180.63L429.95,176.93Z"/><path d="M439.67,177.76L442.42,181.46L439.67,185.16L436.92,181.46Z"/><path d="M446.63,181.47L449.38,185.17L446.63,188.87L443.88,185.17Z"/><path d="M453.60,185.17L456.35,188.87L453.60,192.57L450.85,188.87Z"/><path d="M460.57,188.05L463.32,191.75L460.57,195.45L457.82,191.75Z"/><path d="M467.53,190.93L470.28,194.63L467.53,198.33L464.78,194.63Z"/><path d="M474.50,193.81L477.25,197.51L474.50,201.21L471.75,197.51Z"/><path d="M481.47,196.70L484.22,200.40L481.47,204.10L478.72,200.40Z"/><path d="M488.43,199.17L491.18,202.87L488.43,206.57L485.68,202.87Z"/><path d="M495.40,202.05L498.15,205.75L495.40,209.45L492.65,205.75Z"/><path d="M502.37,204.93L505.12,208.63L502.37,212.33L499.62,208.63Z"/><path d="M509.33,208.64L512.08,212.34L509.33,216.03L506.58,212.34Z"/><path d="M516.30,211.52L519.05,215.22L516.30,218.92L513.55,215.22Z"/><path d="M523.27,212.75L526.02,216.45L523.27,220.15L520.52,216.45Z"/><path d="M530.23,214.81L532.98,218.51L530.23,222.21L527.48,218.51Z"/><path d="M537.20,216.87L539.95,220.57L537.20,224.27L534.45,220.57Z"/><path d="M544.17,218.93L546.92,222.63L544.17,226.33L541.42,222.63Z"/><path d="M551.13,220.99L553.88,224.69L551.13,228.38L548.38,224.69Z"/><path d="M558.10,222.22L560.85,225.92L558.10,229.62L555.35,225.92Z"/><path d="M565.07,224.28L567.82,227.98L565.07,231.68L562.32,227.98Z"/><path d="M572.03,225.93L574.78,229.62L572.03,233.32L569.28,229.62Z"/><path d="M579.00,227.16L581.75,230.86L579.00,234.56L576.25,230.86Z"/><path d="M585.97,228.40L588.72,232.09L585.97,235.79L583.22,232.09Z"/><path d="M592.93,230.04L595.68,233.74L592.93,237.44L590.18,233.74Z"/><path d="M599.90,231.69L602.65,235.39L599.90,239.09L597.15,235.39Z"/><path d="M606.87,233.34L609.62,237.03L606.87,240.73L604.12,237.03Z"/><path d="M613.83,234.98L616.58,238.68L613.83,242.38L611.08,238.68Z"/><path d="M620.80,236.22L623.55,239.92L620.80,243.62L618.05,239.92Z"/><path d="M627.77,237.45L630.52,241.15L627.77,244.85L625.02,241.15Z"/><path d="M634.73,238.28L637.48,241.97L634.73,245.67L631.98,241.97Z"/><path d="M641.70,239.10L644.45,242.80L641.70,246.50L638.95,242.80Z"/><path d="M648.67,240.33L651.42,244.03L648.67,247.73L645.92,244.03Z"/><path d="M655.63,241.16L658.38,244.86L655.63,248.56L652.88,244.86Z"/></g>

<polyline points="376.97,32.85 383.93,43.96 390.90,53.43 397.87,60.84 404.83,67.84 411.80,74.84 418.77,81.43 425.73,88.42 432.70,94.60 439.67,101.19 446.63,109.42 453.60,114.36 460.57,120.12 467.53,125.47 474.50,130.82 481.47,134.94 488.43,141.53 495.40,147.70 502.37,153.88 509.33,159.23 516.30,164.17 523.27,168.29 530.23,174.46 537.20,179.40 544.17,182.69 551.13,186.81 558.10,190.11 565.07,192.57 572.03,195.87 579.00,197.93 585.97,200.40 592.93,202.46 599.90,205.01 606.87,207.48 613.83,209.13 620.80,211.19 627.77,213.24 634.73,214.89 641.70,216.84 648.67,218.92 655.63,221.39" fill="none" stroke="#00ff00" stroke-width="1"/>
<g fill="none" stroke="#00ff00" stroke-width="1"><circle cx="376.97" cy="32.85" r="3.15"/><circle cx="383.93" cy="43.96" r="3.15"/><circle cx="390.90" cy="53.43" r="3.15"/><circle cx="397.87" cy="60.84" r="3.15"/><circle cx="404.83" cy="67.84" r="3.15"/><circle cx="411.80" cy="74.84" r="3.15"/><circle cx="418.77" cy="81.43" r="3.15"/><circle cx="425.73" cy="88.42" r="3.15"/><circle cx="432.70" cy="94.60" r="3.15"/><circle cx="439.67" cy="101.19" r="3.15"/><circle cx="446.63" cy="109.42" r="3.15"/><circle cx="453.60" cy="114.36" r="3.15"/><circle cx="460.57" cy="120.12" r="3.15"/><circle cx="467.53" cy="125.47" r="3.15"/><circle cx="474.50" cy="130.82" r="3.15"/><circle cx="481.47" cy="134.94" r="3.15"/><circle cx="488.43" cy="141.53" r="3.15"/><circle cx="495.40" cy="147.70" r="3.15"/><circle cx="502.37" cy="153.88" r="3.15"/><circle cx="509.33" cy="159.23" r="3.15"/><circle cx="516.30" cy="164.17" r="3.15"/><circle cx="523.27" cy="168.29" r="3.15"/><circle cx="530.23" cy="174.46" r="3.15"/><circle cx="537.20" cy="179.40" r="3.15"/><circle cx="544.17" cy="182.69" r="3.15"/><circle cx="551.13" cy="186.81" r="3.15"/><circle cx="558.10" cy="190.11" r="3.15"/><circle cx="565.07" cy="192.57" r="3.15"/><circle cx="572.03" cy="195.87" r="3.15"/><circle cx="579.00" cy="197.93" r="3.15"/><circle cx="585.97" cy="200.40" r="3.15"/><circle cx="592.93" cy="202.46" r="3.15"/><circle cx="599.90" cy="205.01" r="3.15"/><circle cx="606.87" cy="207.48" r="3.15"/><circle cx="613.83" cy="209.13" r="3.15"/><circle cx="620.80" cy="211.19" r="3.15"/><circle cx="627.77" cy="213.24" r="3.15"/><circle cx="634.73" cy="214.89" r="3.15"/><circle cx="641.70" cy="216.84" r="3.15"/><circle cx="648.67" cy="218.92" r="3.15"/><circle cx="655.63" cy="221.39" r="3.15"/></g>

<polyline points="376.97,110.24 383.93,116.83 390.90,121.36 397.87,126.30 404.83,130.00 411.80,134.12 418.77,138.65 425.73,142.76 432.70,147.29 439.67,150.58 446.63,155.11 453.60,159.23 460.57,163.35 467.53,167.46 474.50,169.93 481.47,173.64 488.43,176.93 495.40,179.22 502.37,182.41 509.33,187.40 516.30,189.26 523.27,191.64 530.23,193.81 537.20,197.06 544.17,198.90 551.13,201.25 558.10,203.61 565.07,205.58 572.03,207.44 579.00,208.98 585.97,210.64 592.93,212.62 599.90,214.28 606.87,216.04 613.83,218.10 620.80,219.75 627.77,221.39 634.73,223.04 641.70,224.27 648.67,225.51 655.63,227.57" fill="none" stroke="#0000ff" stroke-width="1"/>
<g fill="none" stroke="#0000ff" stroke-width="1"><path d="M373.97,110.24H379.97M376.97,107.24V113.24M374.85,108.12L379.09,112.36M374.85,112.36L379.09,108.12" stroke-width="1.15"/><path d="M380.93,116.83H386.93M383.93,113.83V119.83M381.81,114.71L386.05,118.95M381.81,118.95L386.05,114.71" stroke-width="1.15"/><path d="M387.90,121.36H393.90M390.90,118.36V124.36M388.78,119.24L393.02,123.48M388.78,123.48L393.02,119.24" stroke-width="1.15"/><path d="M394.87,126.30H400.87M397.87,123.30V129.30M395.75,124.18L399.99,128.42M395.75,128.42L399.99,124.18" stroke-width="1.15"/><path d="M401.83,130.00H407.83M404.83,127.00V133.00M402.71,127.88L406.95,132.12M402.71,132.12L406.95,127.88" stroke-width="1.15"/><path d="M408.80,134.12H414.80M411.80,131.12V137.12M409.68,132.00L413.92,136.24M409.68,136.24L413.92,132.00" stroke-width="1.15"/><path d="M415.77,138.65H421.77M418.77,135.65V141.65M416.65,136.53L420.89,140.77M416.65,140.77L420.89,136.53" stroke-width="1.15"/><path d="M422.73,142.76H428.73M425.73,139.76V145.76M423.61,140.64L427.85,144.88M423.61,144.88L427.85,140.64" stroke-width="1.15"/><path d="M429.70,147.29H435.70M432.70,144.29V150.29M430.58,145.17L434.82,149.41M430.58,149.41L434.82,145.17" stroke-width="1.15"/><path d="M436.67,150.58H442.67M439.67,147.58V153.58M437.55,148.46L441.79,152.71M437.55,152.71L441.79,148.46" stroke-width="1.15"/><path d="M443.63,155.11H449.63M446.63,152.11V158.11M444.51,152.99L448.75,157.23M444.51,157.23L448.75,152.99" stroke-width="1.15"/><path d="M450.60,159.23H456.60M453.60,156.23V162.23M451.48,157.11L455.72,161.35M451.48,161.35L455.72,157.11" stroke-width="1.15"/><path d="M457.57,163.35H463.57M460.57,160.35V166.35M458.45,161.23L462.69,165.47M458.45,165.47L462.69,161.23" stroke-width="1.15"/><path d="M464.53,167.46H470.53M467.53,164.46V170.46M465.41,165.34L469.65,169.58M465.41,169.58L469.65,165.34" stroke-width="1.15"/><path d="M471.50,169.93H477.50M474.50,166.93V172.93M472.38,167.81L476.62,172.05M472.38,172.05L476.62,167.81" stroke-width="1.15"/><path d="M478.47,173.64H484.47M481.47,170.64V176.64M479.35,171.52L483.59,175.76M479.35,175.76L483.59,171.52" stroke-width="1.15"/><path d="M485.43,176.93H491.43M488.43,173.93V179.93M486.31,174.81L490.55,179.05M486.31,179.05L490.55,174.81" stroke-width="1.15"/><path d="M492.40,179.22H498.40M495.40,176.22V182.22M493.28,177.10L497.52,181.35M493.28,181.35L497.52,177.10" stroke-width="1.15"/><path d="M499.37,182.41H505.37M502.37,179.41V185.41M500.25,180.29L504.49,184.53M500.25,184.53L504.49,180.29" stroke-width="1.15"/><path d="M506.33,187.40H512.33M509.33,184.40V190.40M507.21,185.28L511.45,189.52M507.21,189.52L511.45,185.28" stroke-width="1.15"/><path d="M513.30,189.26H519.30M516.30,186.26V192.26M514.18,187.14L518.42,191.38M514.18,191.38L518.42,187.14" stroke-width="1.15"/><path d="M520.27,191.64H526.27M523.27,188.64V194.64M521.15,189.52L525.39,193.77M521.15,193.77L525.39,189.52" stroke-width="1.15"/><path d="M527.23,193.81H533.23M530.23,190.81V196.81M528.11,191.68L532.35,195.93M528.11,195.93L532.35,191.68" stroke-width="1.15"/><path d="M534.20,197.06H540.20M537.20,194.06V200.06M535.08,194.94L539.32,199.18M535.08,199.18L539.32,194.94" stroke-width="1.15"/><path d="M541.17,198.90H547.17M544.17,195.90V201.90M542.05,196.78L546.29,201.02M542.05,201.02L546.29,196.78" stroke-width="1.15"/><path d="M548.13,201.25H554.13M551.13,198.25V204.25M549.01,199.13L553.25,203.37M549.01,203.37L553.25,199.13" stroke-width="1.15"/><path d="M555.10,203.61H561.10M558.10,200.61V206.61M555.98,201.49L560.22,205.73M555.98,205.73L560.22,201.49" stroke-width="1.15"/><path d="M562.07,205.58H568.07M565.07,202.58V208.58M562.95,203.46L567.19,207.70M562.95,207.70L567.19,203.46" stroke-width="1.15"/><path d="M569.03,207.44H575.03M572.03,204.44V210.44M569.91,205.32L574.15,209.57M569.91,209.57L574.15,205.32" stroke-width="1.15"/><path d="M576.00,208.98H582.00M579.00,205.98V211.98M576.88,206.86L581.12,211.11M576.88,211.11L581.12,206.86" stroke-width="1.15"/><path d="M582.97,210.64H588.97M585.97,207.64V213.64M583.85,208.52L588.09,212.76M583.85,212.76L588.09,208.52" stroke-width="1.15"/><path d="M589.93,212.62H595.93M592.93,209.62V215.62M590.81,210.50L595.05,214.74M590.81,214.74L595.05,210.50" stroke-width="1.15"/><path d="M596.90,214.28H602.90M599.90,211.28V217.28M597.78,212.16L602.02,216.40M597.78,216.40L602.02,212.16" stroke-width="1.15"/><path d="M603.87,216.04H609.87M606.87,213.04V219.04M604.75,213.92L608.99,218.16M604.75,218.16L608.99,213.92" stroke-width="1.15"/><path d="M610.83,218.10H616.83M613.83,215.10V221.10M611.71,215.98L615.95,220.22M611.71,220.22L615.95,215.98" stroke-width="1.15"/><path d="M617.80,219.75H623.80M620.80,216.75V222.75M618.68,217.62L622.92,221.87M618.68,221.87L622.92,217.62" stroke-width="1.15"/><path d="M624.77,221.39H630.77M627.77,218.39V224.39M625.65,219.27L629.89,223.51M625.65,223.51L629.89,219.27" stroke-width="1.15"/><path d="M631.73,223.04H637.73M634.73,220.04V226.04M632.61,220.92L636.85,225.16M632.61,225.16L636.85,220.92" stroke-width="1.15"/><path d="M638.70,224.27H644.70M641.70,221.27V227.27M639.58,222.15L643.82,226.39M639.58,226.39L643.82,222.15" stroke-width="1.15"/><path d="M645.67,225.51H651.67M648.67,222.51V228.51M646.55,223.39L650.79,227.63M646.55,227.63L650.79,223.39" stroke-width="1.15"/><path d="M652.63,227.57H658.63M655.63,224.57V230.57M653.51,225.45L657.75,229.69M653.51,229.69L657.75,225.45" stroke-width="1.15"/></g>

<polyline points="376.97,160.05 383.93,162.94 390.90,165.82 397.87,170.76 404.83,174.87 411.80,178.17 418.77,183.11 425.73,188.05 432.70,190.93 439.67,195.05 446.63,197.51 453.60,200.81 460.57,203.69 467.53,206.57 474.50,209.45 481.47,212.08 488.43,214.50 495.40,216.80 502.37,219.08 509.33,221.39 516.30,223.86 523.27,225.92 530.23,227.98 537.20,230.04 544.17,231.68 551.13,232.92 558.10,234.15 565.07,235.80 572.03,237.03 579.00,238.27 585.97,239.50 592.93,240.74 599.90,241.97 606.87,243.62 613.83,244.44 620.80,245.27 627.77,246.09 634.73,246.91 641.70,247.74 648.67,248.56 655.63,248.97" fill="none" stroke="#ff0000" stroke-width="1" stroke-dasharray="4 3"/>
<g fill="none" stroke="#ff0000" stroke-width="1"><path d="M373.97,160.05H379.97M376.97,157.05V163.05"/><path d="M380.93,162.94H386.93M383.93,159.94V165.94"/><path d="M387.90,165.82H393.90M390.90,162.82V168.82"/><path d="M394.87,170.76H400.87M397.87,167.76V173.76"/><path d="M401.83,174.87H407.83M404.83,171.87V177.87"/><path d="M408.80,178.17H414.80M411.80,175.17V181.17"/><path d="M415.77,183.11H421.77M418.77,180.11V186.11"/><path d="M422.73,188.05H428.73M425.73,185.05V191.05"/><path d="M429.70,190.93H435.70M432.70,187.93V193.93"/><path d="M436.67,195.05H442.67M439.67,192.05V198.05"/><path d="M443.63,197.51H449.63M446.63,194.51V200.51"/><path d="M450.60,200.81H456.60M453.60,197.81V203.81"/><path d="M457.57,203.69H463.57M460.57,200.69V206.69"/><path d="M464.53,206.57H470.53M467.53,203.57V209.57"/><path d="M471.50,209.45H477.50M474.50,206.45V212.45"/><path d="M478.47,212.08H484.47M481.47,209.08V215.08"/><path d="M485.43,214.50H491.43M488.43,211.50V217.50"/><path d="M492.40,216.80H498.40M495.40,213.80V219.80"/><path d="M499.37,219.08H505.37M502.37,216.08V222.08"/><path d="M506.33,221.39H512.33M509.33,218.39V224.39"/><path d="M513.30,223.86H519.30M516.30,220.86V226.86"/><path d="M520.27,225.92H526.27M523.27,222.92V228.92"/><path d="M527.23,227.98H533.23M530.23,224.98V230.98"/><path d="M534.20,230.04H540.20M537.20,227.04V233.04"/><path d="M541.17,231.68H547.17M544.17,228.68V234.68"/><path d="M548.13,232.92H554.13M551.13,229.92V235.92"/><path d="M555.10,234.15H561.10M558.10,231.15V237.15"/><path d="M562.07,235.80H568.07M565.07,232.80V238.80"/><path d="M569.03,237.03H575.03M572.03,234.03V240.03"/><path d="M576.00,238.27H582.00M579.00,235.27V241.27"/><path d="M582.97,239.50H588.97M585.97,236.50V242.50"/><path d="M589.93,240.74H595.93M592.93,237.74V243.74"/><path d="M596.90,241.97H602.90M599.90,238.97V244.97"/><path d="M603.87,243.62H609.87M606.87,240.62V246.62"/><path d="M610.83,244.44H616.83M613.83,241.44V247.44"/><path d="M617.80,245.27H623.80M620.80,242.27V248.27"/><path d="M624.77,246.09H630.77M627.77,243.09V249.09"/><path d="M631.73,246.91H637.73M634.73,243.91V249.91"/><path d="M638.70,247.74H644.70M641.70,244.74V250.74"/><path d="M645.67,248.56H651.67M648.67,245.56V251.56"/><path d="M652.63,248.97H658.63M655.63,245.97V251.97"/></g>

<polyline points="376.97,88.01 383.93,92.13 390.90,99.13 397.87,107.77 404.83,112.71 411.80,119.71 418.77,125.88 425.73,131.65 432.70,137.41 439.67,142.76 446.63,147.29 453.60,153.47 460.57,157.58 467.53,161.70 474.50,165.41 481.47,171.58 488.43,176.11 495.40,178.85 502.37,182.42 509.33,188.03 516.30,190.92 523.27,193.87 530.23,195.81 537.20,198.12 544.17,200.61 551.13,203.24 558.10,206.35 565.07,208.67 572.03,210.04 579.00,211.60 585.97,213.16 592.93,216.45 599.90,220.16 606.87,223.04 613.83,224.69 620.80,227.16 627.77,229.21 634.73,231.27 641.70,232.51 648.67,232.92 655.63,233.74" fill="none" stroke="#00ffff" stroke-width="1" stroke-dasharray="4 3"/>
<g fill="none" stroke="#00ffff" stroke-width="1"><path d="M373.37,85.81L380.57,85.81L376.97,92.31Z"/><path d="M380.33,89.93L387.53,89.93L383.93,96.43Z"/><path d="M387.30,96.93L394.50,96.93L390.90,103.43Z"/><path d="M394.27,105.57L401.47,105.57L397.87,112.07Z"/><path d="M401.23,110.51L408.43,110.51L404.83,117.01Z"/><path d="M408.20,117.51L415.40,117.51L411.80,124.01Z"/><path d="M415.17,123.68L422.37,123.68L418.77,130.19Z"/><path d="M422.13,129.45L429.33,129.45L425.73,135.95Z"/><path d="M429.10,135.21L436.30,135.21L432.70,141.71Z"/><path d="M436.07,140.56L443.27,140.56L439.67,147.06Z"/><path d="M443.03,145.09L450.23,145.09L446.63,151.59Z"/><path d="M450.00,151.27L457.20,151.27L453.60,157.77Z"/><path d="M456.97,155.38L464.17,155.38L460.57,161.88Z"/><path d="M463.93,159.50L471.13,159.50L467.53,166.00Z"/><path d="M470.90,163.21L478.10,163.21L474.50,169.71Z"/><path d="M477.87,169.38L485.07,169.38L481.47,175.88Z"/><path d="M484.83,173.91L492.03,173.91L488.43,180.41Z"/><path d="M491.80,176.65L499.00,176.65L495.40,183.15Z"/><path d="M498.77,180.22L505.97,180.22L502.37,186.72Z"/><path d="M505.73,185.83L512.93,185.83L509.33,192.33Z"/><path d="M512.70,188.72L519.90,188.72L516.30,195.22Z"/><path d="M519.67,191.67L526.87,191.67L523.27,198.17Z"/><path d="M526.63,193.61L533.83,193.61L530.23,200.11Z"/><path d="M533.60,195.92L540.80,195.92L537.20,202.42Z"/><path d="M540.57,198.41L547.77,198.41L544.17,204.91Z"/><path d="M547.53,201.04L554.73,201.04L551.13,207.54Z"/><path d="M554.50,204.15L561.70,204.15L558.10,210.65Z"/><path d="M561.47,206.47L568.67,206.47L565.07,212.97Z"/><path d="M568.43,207.84L575.63,207.84L572.03,214.34Z"/><path d="M575.40,209.40L582.60,209.40L579.00,215.90Z"/><path d="M582.37,210.96L589.57,210.96L585.97,217.46Z"/><path d="M589.33,214.25L596.53,214.25L592.93,220.75Z"/><path d="M596.30,217.96L603.50,217.96L599.90,224.46Z"/><path d="M603.27,220.84L610.47,220.84L606.87,227.34Z"/><path d="M610.23,222.49L617.43,222.49L613.83,228.99Z"/><path d="M617.20,224.96L624.40,224.96L620.80,231.46Z"/><path d="M624.17,227.01L631.37,227.01L627.77,233.51Z"/><path d="M631.13,229.07L638.33,229.07L634.73,235.57Z"/><path d="M638.10,230.31L645.30,230.31L641.70,236.81Z"/><path d="M645.07,230.72L652.27,230.72L648.67,237.22Z"/><path d="M652.03,231.54L659.23,231.54L655.63,238.04Z"/></g>

<g font-family="Liberation Sans, sans-serif" text-rendering="geometricPrecision" font-size="10" fill="#262626">
<text x="370.00" y="274" text-anchor="middle">60</text>
<text x="439.67" y="274" text-anchor="middle">70</text>
<text x="509.33" y="274" text-anchor="middle">80</text>
<text x="579.00" y="274" text-anchor="middle">90</text>
<text x="648.67" y="274" text-anchor="middle">100</text>
<text x="366.50" y="264.10" text-anchor="end">0</text>
<text x="366.50" y="222.93" text-anchor="end">1</text>
<text x="366.50" y="181.77" text-anchor="end">2</text>
<text x="366.50" y="140.60" text-anchor="end">3</text>
<text x="366.50" y="99.43" text-anchor="end">4</text>
<text x="366.50" y="58.27" text-anchor="end">5</text>
<text x="366.50" y="17.10" text-anchor="end">6</text>
<text x="377.40" y="11.8">10</text>
<text x="388.60" y="6.6" font-size="7">4</text>
</g>
<path d="M371.50,6.8L375.80,10.6M371.50,10.6L375.80,6.8" stroke="#262626" stroke-width="0.8" fill="none"/>
<text font-family="Liberation Sans, sans-serif" text-rendering="geometricPrecision" font-size="11" fill="#262626" x="526.75" y="288" text-anchor="middle">(b)</text>
<rect x="592.0" y="21" width="83.5" height="73.5" fill="#fff" stroke="#262626" stroke-width="1" opacity="0.63"/>
<path d="M595.00,28.20H623.70" stroke="#ffff00" stroke-width="1"/>
<g fill="none" stroke="#ffff00" stroke-width="1"><path d="M607.80,24.65L612.30,28.20L607.80,31.75Z"/></g>
<text font-family="Liberation Sans, sans-serif" text-rendering="geometricPrecision" font-size="8.6" fill="#000" x="625.90" y="31.15">HCOA</text>
<path d="M595.00,40.04H623.70" stroke="#000000" stroke-width="1"/>
<g fill="none" stroke="#000000" stroke-width="1"><path d="M609.30,36.34L612.05,40.04L609.30,43.74L606.55,40.04Z"/></g>
<text font-family="Liberation Sans, sans-serif" text-rendering="geometricPrecision" font-size="8.6" fill="#000" x="625.90" y="42.99">BBPSO</text>
<path d="M595.00,51.88H623.70" stroke="#00ff00" stroke-width="1"/>
<g fill="none" stroke="#00ff00" stroke-width="1"><circle cx="609.30" cy="51.88" r="3.15"/></g>
<text font-family="Liberation Sans, sans-serif" text-rendering="geometricPrecision" font-size="8.6" fill="#000" x="625.90" y="54.83">PBBPSO</text>
<path d="M595.00,63.72H623.70" stroke="#0000ff" stroke-width="1"/>
<g fill="none" stroke="#0000ff" stroke-width="1"><path d="M606.30,63.72H612.30M609.30,60.72V66.72M607.18,61.60L611.42,65.84M607.18,65.84L611.42,61.60" stroke-width="1.15"/></g>
<text font-family="Liberation Sans, sans-serif" text-rendering="geometricPrecision" font-size="8.6" fill="#000" x="625.90" y="66.67">DLSBBPSO</text>
<path d="M595.00,75.56H623.70" stroke="#ff0000" stroke-width="1" stroke-dasharray="4 3"/>
<g fill="none" stroke="#ff0000" stroke-width="1"><path d="M606.30,75.56H612.30M609.30,72.56V78.56"/></g>
<text font-family="Liberation Sans, sans-serif" text-rendering="geometricPrecision" font-size="8.6" fill="#000" x="625.90" y="78.51">TBBPSO</text>
<path d="M595.00,87.40H623.70" stroke="#00ffff" stroke-width="1" stroke-dasharray="4 3"/>
<g fill="none" stroke="#00ffff" stroke-width="1"><path d="M605.70,85.20L612.90,85.20L609.30,91.70Z"/></g>
<text font-family="Liberation Sans, sans-serif" text-rendering="geometricPrecision" font-size="8.6" fill="#000" x="625.90" y="90.35">ETBBPSO</text>
</svg></div>
</body></html>
